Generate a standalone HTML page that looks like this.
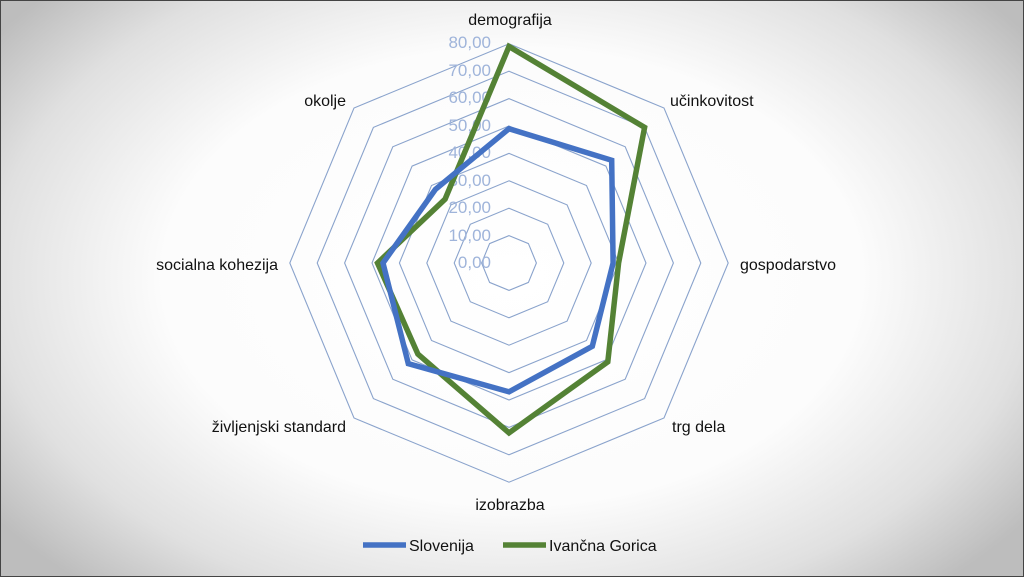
<!DOCTYPE html>
<html><head><meta charset="utf-8"><style>
html,body{margin:0;padding:0}
body{width:1024px;height:577px;overflow:hidden;background:radial-gradient(ellipse 62% 72% at 50% 48%,#ffffff 0%,#fcfcfc 55%,#e0e0e0 82%,#bdbdbd 100%);font-family:"Liberation Sans",sans-serif;}
svg{position:absolute;left:0;top:0}
</style></head><body>
<svg width="1024" height="577" viewBox="0 0 1024 577">
<rect x="0.5" y="0.5" width="1023" height="576" fill="none" stroke="#444" stroke-width="1"/>
<g id="rings" fill="none" stroke="#8aa3cc" stroke-width="1.1"></g>
<g font-size="17" fill="#9fb4da" text-anchor="end" font-family="Liberation Sans,sans-serif">
<text x="491" y="48">80,00</text><text x="491" y="76">70,00</text><text x="491" y="103">60,00</text><text x="491" y="131">50,00</text><text x="491" y="158">40,00</text><text x="491" y="186">30,00</text><text x="491" y="213">20,00</text><text x="491" y="241">10,00</text><text x="491" y="268">0,00</text>
</g>
<polygon id="g" fill="none" stroke="#548235" stroke-width="5.5" stroke-linejoin="miter"/>
<polygon id="b" fill="none" stroke="#4472c4" stroke-width="5.5" stroke-linejoin="miter"/>
<g font-size="16" fill="#111" font-family="Liberation Sans,sans-serif">
<text x="510" y="25" text-anchor="middle">demografija</text>
<text x="670" y="106">učinkovitost</text>
<text x="740" y="270">gospodarstvo</text>
<text x="672" y="432">trg dela</text>
<text x="510" y="510" text-anchor="middle">izobrazba</text>
<text x="346" y="432" text-anchor="end">življenjski standard</text>
<text x="278" y="270" text-anchor="end">socialna kohezija</text>
<text x="346" y="106" text-anchor="end">okolje</text>
<line x1="363" y1="545" x2="406" y2="545" stroke="#4472c4" stroke-width="5.5"/>
<text x="409" y="551">Slovenija</text>
<line x1="503" y1="545" x2="546" y2="545" stroke="#548235" stroke-width="5.5"/>
<text x="549" y="551">Ivančna Gorica</text>
</g>
</svg>
<script>
var cx=509,cy=263,u=2.74;
function pts(vals){return vals.map(function(v,i){var a=-Math.PI/2+i*Math.PI/4;return (cx+v*u*Math.cos(a)).toFixed(1)+','+(cy+v*u*Math.sin(a)).toFixed(1)}).join(' ')}
var r=document.getElementById('rings'),h='';
for(var k=10;k<=80;k+=10){h+='<polygon points="'+pts([k,k,k,k,k,k,k,k])+'"/>'}
r.innerHTML=h;
document.getElementById('b').setAttribute('points',pts([49,53,38,43,47,52,46,38]));
document.getElementById('g').setAttribute('points',pts([79,70,40,51,62,47,48,33]));
</script>
</body></html>
